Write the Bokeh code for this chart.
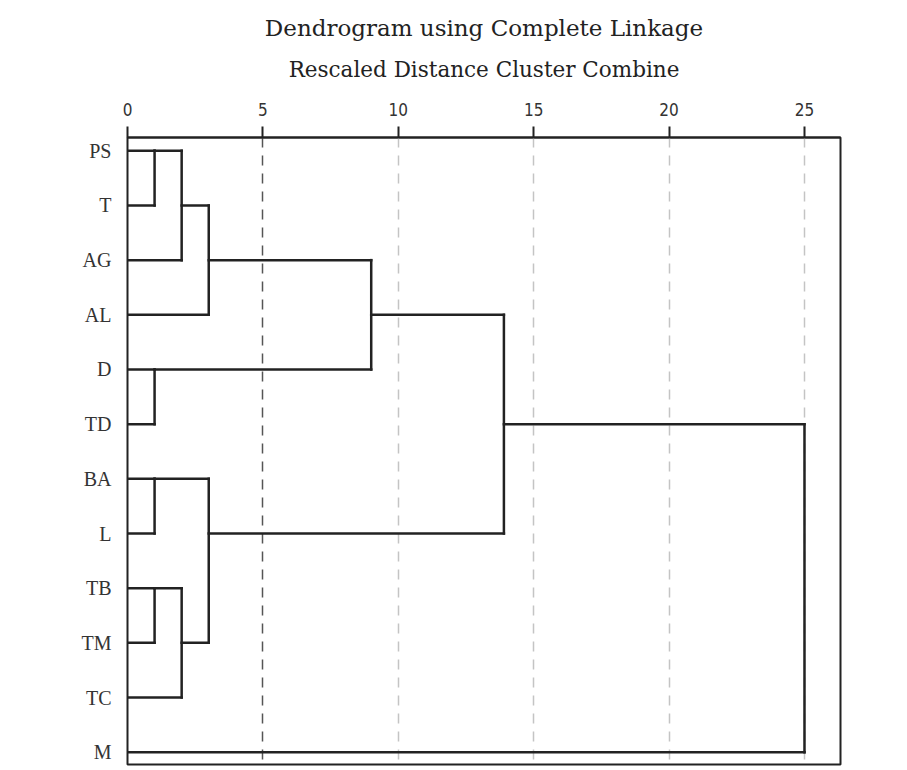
import math
from bokeh.plotting import figure
from bokeh.models import Range1d, FixedTicker, Grid, Title
from bokeh.embed import file_html
from bokeh.resources import INLINE

# ---- data ----
leaves = ["PS", "T", "AG", "AL", "D", "TD", "BA", "L", "TB", "TM", "TC", "M"]
# agglomeration schedule: children (leaf name or "#k" = k-th merge) and rescaled distance
merge_a = ["PS", "D", "BA", "TB", "#0", "#3", "#4", "#2", "#6", "#8", "#9"]
merge_b = ["T", "TD", "L", "TM", "AG", "TC", "AL", "#5", "#1", "#7", "M"]
merge_dist = [1, 1, 1, 1, 2, 2, 3, 3, 9, 13.9, 25]
x_ticks = [0, 5, 10, 15, 20, 25]
title_text = "Dendrogram using Complete Linkage"
subtitle_text = "Rescaled Distance Cluster Combine"

# ---- build dendrogram segments ----
pos = {name: (i + 1, 0.0) for i, name in enumerate(leaves)}
x0s, y0s, x1s, y1s = [], [], [], []
for k, (a, b, h) in enumerate(zip(merge_a, merge_b, merge_dist)):
    ya, ha = pos[a]
    yb, hb = pos[b]
    x0s += [ha, hb, h]
    x1s += [h, h, h]
    y0s += [ya, yb, ya]
    y1s += [ya, yb, yb]
    pos["#%d" % k] = (math.floor((ya + yb) / 2), h)

n = len(leaves)
p = figure(width=888, height=768, output_backend="svg", toolbar_location=None,
           x_range=Range1d(0, 26.33), y_range=Range1d(n + 0.225, 0.757),
           x_axis_location="above", title=None,
           min_border_left=127, min_border_right=48, min_border_top=137,
           min_border_bottom=4)
p.background_fill_color = "white"
p.border_fill_color = "white"
p.outline_line_color = "#222222"
p.outline_line_width = 2
p.xgrid.visible = False
p.ygrid.visible = False

# top axis (subtitle is its axis label)
xa = p.xaxis[0]
xa.ticker = FixedTicker(ticks=x_ticks)
xa.axis_line_color = "#222222"
xa.axis_line_width = 2
xa.major_tick_in = 0
xa.major_tick_out = 11
xa.major_tick_line_width = 2
xa.major_tick_line_color = "#222222"
xa.minor_tick_line_color = None
xa.major_label_standoff = 11
xa.major_label_text_font = "DejaVu Sans Condensed"
xa.major_label_text_font_size = "17px"
xa.major_label_text_color = "#333333"
xa.axis_label = subtitle_text
xa.axis_label_standoff = 18
xa.axis_label_text_font = "DejaVu Serif"
xa.axis_label_text_font_size = "21.5px"
xa.axis_label_text_font_style = "normal"
xa.axis_label_text_color = "#222222"

# left axis with leaf labels
ya_ = p.yaxis[0]
ya_.ticker = FixedTicker(ticks=list(range(1, n + 1)))
ya_.major_label_overrides = {i + 1: name for i, name in enumerate(leaves)}
ya_.axis_line_color = None
ya_.major_tick_line_color = None
ya_.minor_tick_line_color = None
ya_.major_label_standoff = 10
ya_.major_label_text_font = "Liberation Serif"
ya_.major_label_text_font_size = "20px"
ya_.major_label_text_color = "#333333"

# dashed reference lines
g1 = Grid(dimension=0, ticker=FixedTicker(ticks=[5]), grid_line_color="#555555",
          grid_line_dash="10 8", grid_line_width=1.5)
g2 = Grid(dimension=0, ticker=FixedTicker(ticks=[10, 15, 20, 25]), grid_line_color="#c4c4c4",
          grid_line_dash="10 8", grid_line_width=1.5)
p.add_layout(g1, "center")
p.add_layout(g2, "center")

p.segment(x0=x0s, y0=y0s, x1=x1s, y1=y1s, line_color="#222222", line_width=2.5,
          line_cap="square")

p.add_layout(Title(text=title_text, align="center", text_font="DejaVu Serif",
                   text_font_size="23px", text_font_style="normal", text_color="#222222",
                   standoff=25), "above")

open("out.html", "w").write(file_html(p, INLINE))
